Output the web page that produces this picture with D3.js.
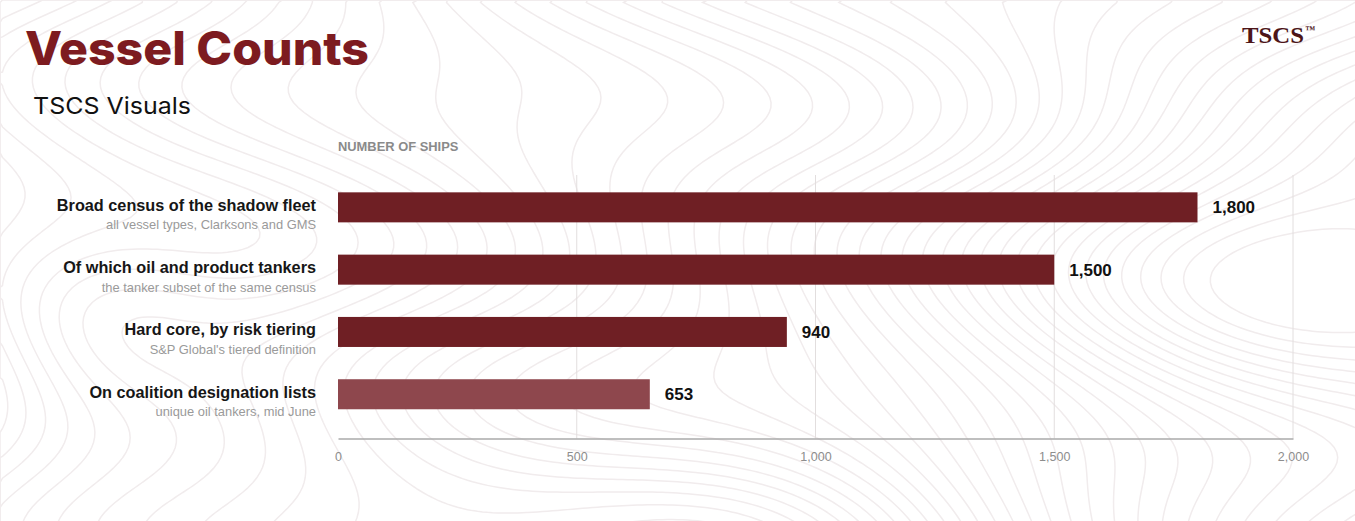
<!DOCTYPE html>
<html><head><meta charset="utf-8">
<script src="https://cdn.jsdelivr.net/npm/d3@7"></script>
<style>
html,body{margin:0;padding:0;background:#fff;}
svg{display:block;}
</style></head>
<body>
<svg id="chart" width="1355" height="521"></svg>
<script>
const categories = [
  "Broad census of the shadow fleet",
  "Of which oil and product tankers",
  "Hard core, by risk tiering",
  "On coalition designation lists"
];
const subLabels = [
  "all vessel types, Clarksons and GMS",
  "the tanker subset of the same census",
  "S&P Global's tiered definition",
  "unique oil tankers, mid June"
];
const values = [1800, 1500, 940, 653];
const tickValues = [0, 500, 1000, 1500, 2000];
const barColors = ["#6f1f24", "#6f1f24", "#6f1f24", "#8e474d"];

const W = 1355, H = 521;
const svg = d3.select("#chart");
svg.append("rect").attr("width", W).attr("height", H).attr("fill", "#fff");

// decorative topographic background
(function(){
  const k = 5, nx = Math.ceil(W/k)+1, ny = Math.ceil(H/k)+1;
  const field = new Array(nx*ny);
  for (let j=0;j<ny;j++) for (let i=0;i<nx;i++){
    const x=i*k, y=j*k;
    let v = x/38 + 2.2*Math.sin(y/70 + x/260) + 1.2*Math.sin(y/37 - x/190);
    v += 9*Math.exp(-(((x-1260)**2)/(2*170*170) + ((y-290)**2)/(2*110*110)));
    v -= 7*Math.exp(-(((x-760)**2)/(2*150*150) + ((y-560)**2)/(2*120*120)));
    v += 5*Math.exp(-(((x-90)**2)/(2*90*90) + ((y-330)**2)/(2*80*80)));
    field[j*nx+i]=v;
  }
  const ext = d3.extent(field);
  const th = d3.range(Math.ceil(ext[0]), Math.floor(ext[1]), 1);
  const cont = d3.contours().size([nx,ny]).smooth(true).thresholds(th)(field);
  svg.append("g").selectAll("path").data(cont).join("path")
    .attr("d", d3.geoPath(d3.geoIdentity().scale(k)))
    .attr("fill","none").attr("stroke","#f1eced").attr("stroke-width",1.5);
})();

const x = d3.scaleLinear().domain([0, 2000]).range([338, 1293]);
const y = d3.scaleBand().domain(categories).range([176.2, 425.4]).paddingInner(0.518).paddingOuter(0.259);
const axisY = 438.5;
const sans = "'Liberation Sans', Arial, sans-serif";

// gridlines
svg.append("g").selectAll("line").data(tickValues.filter(d=>d>0)).join("line")
  .attr("x1", d=>x(d)).attr("x2", d=>x(d)).attr("y1", 175).attr("y2", axisY)
  .attr("stroke", "#e2dede").attr("stroke-width", 1);

// bars
svg.append("g").selectAll("rect").data(values).join("rect")
  .attr("x", x(0)).attr("y", (d,i)=>y(categories[i]))
  .attr("width", d=>x(d)-x(0)).attr("height", y.bandwidth())
  .attr("fill", (d,i)=>barColors[i]);

// value labels
svg.append("g").selectAll("text").data(values).join("text")
  .attr("x", d=>x(d)+15).attr("y", (d,i)=>y(categories[i])+y.bandwidth()/2+6)
  .attr("font-family", sans).attr("font-weight","bold")
  .attr("font-size", 17).attr("fill","#111")
  .text(d=>d3.format(",")(d));

// category labels
const lg = svg.append("g").attr("font-family", sans).attr("text-anchor","end");
lg.selectAll("text.main").data(categories).join("text").attr("class","main")
  .attr("x", 316).attr("y", d=>y(d)+y.bandwidth()/2+3.5)
  .attr("font-size", 16.25).attr("font-weight","bold").attr("fill","#161616").text(d=>d);
lg.selectAll("text.sub").data(subLabels).join("text").attr("class","sub")
  .attr("x", 316).attr("y", (d,i)=>y(categories[i])+y.bandwidth()/2+22)
  .attr("font-size", 12.9).attr("fill","#9a9a9a").text(d=>d);

// x axis
const axis = d3.axisBottom(x).tickValues(tickValues).tickSize(0).tickPadding(14).tickFormat(d3.format(","));
const ag = svg.append("g").attr("transform", `translate(0,${axisY})`).call(axis);
ag.select(".domain").attr("stroke","#aaa").attr("stroke-width",1.6);
ag.selectAll("text").attr("font-family", sans).attr("font-size",12.5).attr("fill","#8d8d8d");

// axis title
svg.append("text").attr("x", 338).attr("y", 151)
  .attr("font-family", sans).attr("font-weight","bold")
  .attr("font-size", 12.9).attr("fill","#8a8a8a").text("NUMBER OF SHIPS");

// title & subtitle
svg.append("text").attr("x", 25).attr("y", 65)
  .attr("font-family","Inter, Roboto, sans-serif").attr("font-weight", 800)
  .attr("font-size", 46).attr("fill","#7d1b20")
  .attr("textLength", 344).attr("lengthAdjust","spacingAndGlyphs")
  .text("Vessel Counts");
svg.append("text").attr("x", 33).attr("y", 114)
  .attr("font-family","Inter, Roboto, sans-serif").attr("font-weight", 400)
  .attr("font-size", 23).attr("fill","#111")
  .attr("textLength", 158).attr("lengthAdjust","spacingAndGlyphs")
  .text("TSCS Visuals");

// logo
const logo = svg.append("text").attr("x", 1242).attr("y", 43)
  .attr("font-family","'Liberation Serif', 'DejaVu Serif', serif").attr("font-weight","bold")
  .attr("font-size", 24).attr("fill","#4d1518");
logo.append("tspan").attr("textLength", 62).attr("lengthAdjust","spacingAndGlyphs").text("TSCS");
logo.append("tspan").attr("font-size", 10).attr("dy", -10).attr("dx", 1).text("™");
</script>
</body></html>
